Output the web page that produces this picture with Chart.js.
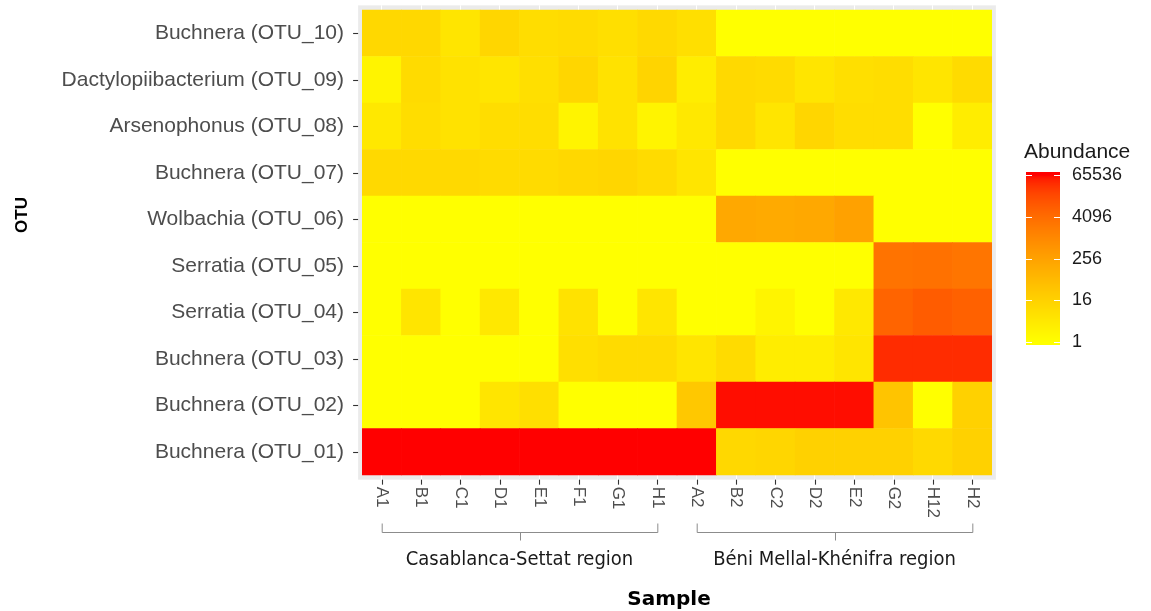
<!DOCTYPE html>
<html>
<head>
<meta charset="utf-8">
<script src="https://cdn.jsdelivr.net/npm/chart.js@4.4.1/dist/chart.umd.min.js"></script>
<style>
  html, body { margin: 0; padding: 0; background: #fff; }
</style>
</head>
<body>
<canvas id="heatmap" width="1151" height="611"></canvas>
<script>
// Samples (x axis) and OTUs (y axis, bottom to top)
const samples = ["A1", "B1", "C1", "D1", "E1", "F1", "G1", "H1", "A2", "B2", "C2", "D2", "E2", "G2", "H12", "H2"];
const otuLabels = [
  "Buchnera (OTU_01)", "Buchnera (OTU_02)", "Buchnera (OTU_03)", "Serratia (OTU_04)",
  "Serratia (OTU_05)", "Wolbachia (OTU_06)", "Buchnera (OTU_07)", "Arsenophonus (OTU_08)",
  "Dactylopiibacterium (OTU_09)", "Buchnera (OTU_10)"
];

// Abundance per sample (log2 colour scale)
const otu01 = [65536, 65536, 65536, 65536, 65536, 65536, 65536, 65536, 65536, 11, 12, 16, 16, 16, 10, 16];
const otu02 = [1, 1, 1, 5, 7, 1, 1, 1, 28, 60000, 60000, 60000, 60000, 35, 1, 16];
const otu03 = [1, 1, 1, 1, 1, 7, 9, 9, 5, 9, 3, 3, 5, 38000, 38000, 38000];
const otu04 = [1, 5, 1, 4, 1, 6, 1, 5, 1, 1, 2, 1, 4, 5800, 8000, 6500];
const otu05 = [1, 1, 1, 1, 1, 1, 1, 1, 1, 1, 1, 1, 1, 2900, 3200, 2600];
const otu06 = [1, 1, 1, 1, 1, 1, 1, 1, 1, 180, 160, 180, 260, 1, 1, 1];
const otu07 = [10, 10, 10, 9, 9, 11, 12, 9, 5, 1, 1, 1, 1, 1, 1, 1];
const otu08 = [4, 8, 6, 8, 8, 2, 6, 2, 4, 10, 5, 12, 8, 8, 1, 3];
const otu09 = [2, 9, 6, 5, 7, 12, 6, 14, 3, 10, 9, 5, 7, 8, 5, 9];
const otu10 = [11, 11, 5, 12, 8, 9, 7, 10, 7, 1, 1, 1, 1, 1, 1, 1];
const rows = [otu01, otu02, otu03, otu04, otu05, otu06, otu07, otu08, otu09, otu10];

const legendTicks = [1, 16, 256, 4096, 65536];

const regionNames = ["Casablanca-Settat region", "Béni Mellal-Khénifra region"];
const regionStart = ["A1", "A2"];
const regionEnd = ["H1", "H2"];

// yellow -> red gradient interpolated in CIELAB, on log2 abundance
function toLinear(c) { c /= 255; return c <= 0.04045 ? c / 12.92 : Math.pow((c + 0.055) / 1.055, 2.4); }
function toSrgb(c) {
  c = Math.max(0, Math.min(1, c));
  return Math.round(255 * (c <= 0.0031308 ? 12.92 * c : 1.055 * Math.pow(c, 1 / 2.4) - 0.055));
}
function rgbToLab(rgb) {
  const [r, g, b] = rgb.map(toLinear);
  const x = (0.4124 * r + 0.3576 * g + 0.1805 * b) / 0.95047;
  const y = 0.2126 * r + 0.7152 * g + 0.0722 * b;
  const z = (0.0193 * r + 0.1192 * g + 0.9505 * b) / 1.08883;
  const f = (t) => t > 0.008856 ? Math.cbrt(t) : 7.787 * t + 16 / 116;
  return [116 * f(y) - 16, 500 * (f(x) - f(y)), 200 * (f(y) - f(z))];
}
function labToRgb(lab) {
  const fy = (lab[0] + 16) / 116, fx = fy + lab[1] / 500, fz = fy - lab[2] / 200;
  const inv = (t) => t * t * t > 0.008856 ? t * t * t : (t - 16 / 116) / 7.787;
  const x = inv(fx) * 0.95047, y = inv(fy), z = inv(fz) * 1.08883;
  const r = 3.2406 * x - 1.5372 * y - 0.4986 * z;
  const g = -0.9689 * x + 1.8758 * y + 0.0415 * z;
  const b = 0.0557 * x - 0.2040 * y + 1.0570 * z;
  return [toSrgb(r), toSrgb(g), toSrgb(b)];
}
const lowLab = rgbToLab([255, 255, 0]);
const highLab = rgbToLab([255, 0, 0]);
function colourAt(t) {
  t = Math.max(0, Math.min(1, t));
  const lab = lowLab.map((v, i) => v + (highLab[i] - v) * t);
  const [r, g, b] = labToRgb(lab);
  return `rgb(${r},${g},${b})`;
}
function colourFor(v) { return colourAt(Math.log2(v) / 16); }

const datasets = rows.map((row, i) => ({
  label: otuLabels[i],
  data: samples.map(() => 1),
  backgroundColor: row.map(colourFor),
  borderWidth: 0,
  barPercentage: 1,
  categoryPercentage: 1,
  stack: "tiles"
}));

const PANEL_PAD = 3.9; // grey margin left/right of tiles

const decorations = {
  id: "decorations",
  beforeDraw(chart) {
    const { ctx, chartArea: a } = chart;
    ctx.save();
    ctx.fillStyle = "#EBEBEB";
    ctx.fillRect(a.left - PANEL_PAD, a.top, a.right - a.left + 2 * PANEL_PAD, a.bottom - a.top);
    ctx.restore();
  },
  afterDraw(chart) {
    const { ctx, chartArea: a, scales } = chart;
    const xs = scales.x, ys = scales.y;
    ctx.save();

    // tick marks
    ctx.strokeStyle = "#333333";
    ctx.lineWidth = 1.1;
    ys.ticks.forEach((t) => {
      const y = Math.round(ys.getPixelForValue(t.value)) + 0.5;
      ctx.beginPath();
      ctx.moveTo(a.left - PANEL_PAD, y);
      ctx.lineTo(a.left - PANEL_PAD - 5, y);
      ctx.stroke();
    });
    samples.forEach((s, i) => {
      const x = Math.round(xs.getPixelForValue(i)) + 0.5;
      ctx.beginPath();
      ctx.moveTo(x, a.bottom);
      ctx.lineTo(x, a.bottom + 5);
      ctx.stroke();
    });

    // x tick labels, rotated to read downwards
    ctx.fillStyle = "#4D4D4D";
    ctx.font = "17px 'Liberation Sans', Arial, sans-serif";
    ctx.textAlign = "left";
    ctx.textBaseline = "middle";
    samples.forEach((s, i) => {
      const x = xs.getPixelForValue(i);
      ctx.save();
      ctx.translate(x, a.bottom + 7);
      ctx.rotate(Math.PI / 2);
      ctx.fillText(s, 0, 0);
      ctx.restore();
    });

    // region brackets
    ctx.strokeStyle = "#8C8C8C";
    ctx.lineWidth = 1;
    ctx.fillStyle = "#1A1A1A";
    ctx.font = "20px 'DejaVu Sans Condensed', 'DejaVu Sans', sans-serif";
    ctx.textAlign = "center";
    ctx.textBaseline = "middle";
    regionNames.forEach((name, i) => {
      const x0 = xs.getPixelForValue(samples.indexOf(regionStart[i]));
      const x1 = xs.getPixelForValue(samples.indexOf(regionEnd[i]));
      const mid = (x0 + x1) / 2;
      const yb = 532.5;
      ctx.beginPath();
      ctx.moveTo(x0 + 0.5, yb - 9);
      ctx.lineTo(x0 + 0.5, yb);
      ctx.lineTo(x1 + 0.5, yb);
      ctx.lineTo(x1 + 0.5, yb - 9);
      ctx.moveTo(Math.round(mid) + 0.5, yb);
      ctx.lineTo(Math.round(mid) + 0.5, yb + 8);
      ctx.stroke();
      ctx.fillText(name, mid, 560);
    });

    // axis titles
    ctx.fillStyle = "#000";
    ctx.font = "bold 20px 'DejaVu Sans', sans-serif";
    ctx.fillText("Sample", 669, 600);
    ctx.save();
    ctx.translate(22, 215);
    ctx.rotate(-Math.PI / 2);
    ctx.font = "bold 17px 'Liberation Sans', Arial, sans-serif";
    ctx.fillText("OTU", 0, 0);
    ctx.restore();

    // colour bar legend
    const barL = 1026, barR = 1060, yLow = 342, yHigh = 175;
    const pos = (v) => yLow - (Math.log2(v) / 16) * (yLow - yHigh);
    for (let y = yHigh - 3; y < yLow + 3; y++) {
      ctx.fillStyle = colourAt((yLow - y - 0.5) / (yLow - yHigh));
      ctx.fillRect(barL, y, barR - barL, 1);
    }
    ctx.strokeStyle = "#fff";
    ctx.lineWidth = 1;
    ctx.fillStyle = "#1A1A1A";
    ctx.font = "18px 'Liberation Sans', Arial, sans-serif";
    ctx.textAlign = "left";
    legendTicks.forEach((v) => {
      const y = Math.round(pos(v)) + 0.5;
      ctx.beginPath();
      ctx.moveTo(barL, y); ctx.lineTo(barL + 6, y);
      ctx.moveTo(barR - 6, y); ctx.lineTo(barR, y);
      ctx.stroke();
      ctx.fillText(String(v), barR + 12, y);
    });
    ctx.font = "21px 'Liberation Sans', Arial, sans-serif";
    ctx.fillText("Abundance", 1024, 152);

    ctx.restore();
  }
};

function noPadding(scale) {
  scale.paddingTop = 0;
  scale.paddingBottom = 0;
  scale.paddingLeft = 0;
  scale.paddingRight = 0;
}

new Chart(document.getElementById("heatmap"), {
  type: "bar",
  data: { labels: samples, datasets },
  options: {
    responsive: false,
    animation: false,
    devicePixelRatio: 1,
    layout: { padding: { top: 5.35, right: 159, bottom: 0, left: 0 } },
    plugins: { legend: { display: false }, tooltip: { enabled: false } },
    scales: {
      x: {
        stacked: true,
        grid: { color: "#ffffff", offset: false, drawTicks: false },
        border: { display: false },
        ticks: { display: false },
        afterFit: (scale) => { scale.height = 611 - 479.65; noPadding(scale); }
      },
      y: {
        type: "linear",
        stacked: true,
        min: -0.1,
        max: 10.1,
        grid: { color: "#ffffff", drawTicks: false },
        border: { display: false },
        afterBuildTicks: (scale) => { scale.ticks = otuLabels.map((_, i) => ({ value: i + 0.5 })); },
        ticks: {
          autoSkip: false,
          padding: 18,
          color: "#4D4D4D",
          font: { family: "'Liberation Sans', Arial, sans-serif", size: 21 },
          callback: (value, index) => otuLabels[index]
        },
        afterFit: (scale) => { scale.width = 362; noPadding(scale); }
      }
    }
  },
  plugins: [decorations]
});
</script>
</body>
</html>
